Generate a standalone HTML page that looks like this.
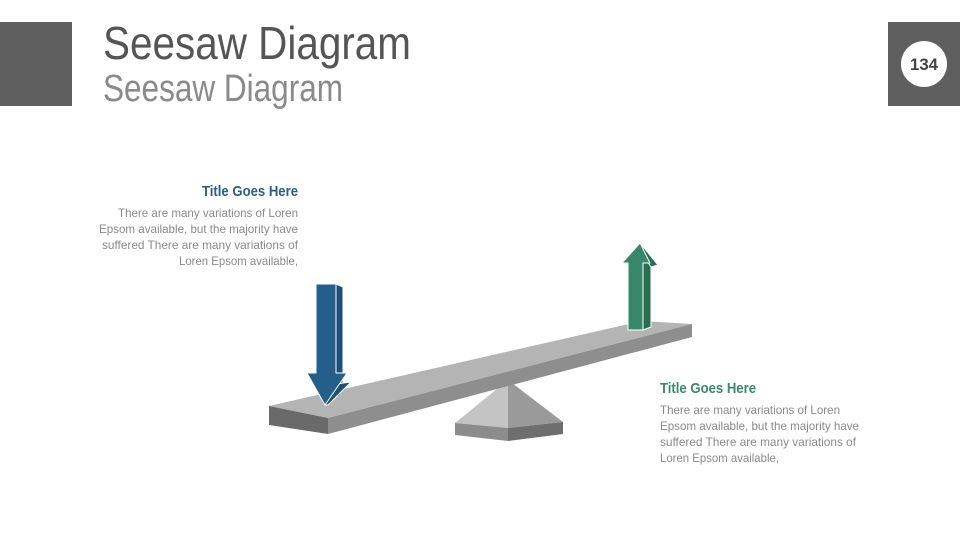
<!DOCTYPE html>
<html><head><meta charset="utf-8"><style>
html,body{margin:0;padding:0;background:#fff;}
svg{display:block;font-family:"Liberation Sans",sans-serif;}
</style></head><body>
<svg width="960" height="540" viewBox="0 0 960 540" xmlns="http://www.w3.org/2000/svg">
<rect x="0" y="22" width="72" height="84" fill="#5f5f5f"/>
<rect x="888" y="22" width="72" height="84" fill="#5f5f5f"/>
<circle cx="924" cy="64" r="23" fill="#fff"/>
<text x="924" y="70" text-anchor="middle" font-size="17" font-weight="bold" fill="#444" textLength="28" lengthAdjust="spacingAndGlyphs">134</text>
<text x="103" y="59" font-size="46" fill="#555" textLength="308" lengthAdjust="spacingAndGlyphs">Seesaw Diagram</text>
<text x="103" y="101" font-size="38" fill="#8a8a8a" textLength="240" lengthAdjust="spacingAndGlyphs">Seesaw Diagram</text>

<g text-anchor="end">
<text x="298" y="196" font-size="15" font-weight="bold" fill="#2a5d8a" textLength="96" lengthAdjust="spacingAndGlyphs">Title Goes Here</text>
<g font-size="12" fill="#8a8a8a">
<text x="298" y="217" textLength="180" lengthAdjust="spacingAndGlyphs">There are many variations of Loren</text>
<text x="298" y="233" textLength="199" lengthAdjust="spacingAndGlyphs">Epsom available, but the majority have</text>
<text x="298" y="249" textLength="196" lengthAdjust="spacingAndGlyphs">suffered  There are many variations of</text>
<text x="298" y="265" textLength="119" lengthAdjust="spacingAndGlyphs">Loren Epsom available,</text>
</g></g>
<g>
<text x="660" y="393" font-size="15" font-weight="bold" fill="#3a8a66" textLength="96" lengthAdjust="spacingAndGlyphs">Title Goes Here</text>
<g font-size="12" fill="#8a8a8a">
<text x="660" y="414" textLength="180" lengthAdjust="spacingAndGlyphs">There are many variations of Loren</text>
<text x="660" y="430" textLength="199" lengthAdjust="spacingAndGlyphs">Epsom available, but the majority have</text>
<text x="660" y="446" textLength="196" lengthAdjust="spacingAndGlyphs">suffered  There are many variations of</text>
<text x="660" y="462" textLength="119" lengthAdjust="spacingAndGlyphs">Loren Epsom available,</text>
</g></g>

<!-- fulcrum -->
<polygon points="508,380 455,423 508,428" fill="#c4c4c4"/>
<polygon points="508,380 563,422 508,428" fill="#9a9a9a"/>
<polygon points="455,423 508,428 508,441 455,435" fill="#8c8c8c"/>
<polygon points="508,428 563,422 563,434 508,441" fill="#6e6e6e"/>

<!-- plank -->
<polygon points="269,406 642,321 692,324 328,418" fill="#b4b4b4"/>
<polygon points="328,418 692,324 692,337 328,434" fill="#8e8e8e"/>
<polygon points="269,406 328,418 328,434 269,425" fill="#6a6a6a"/>

<!-- blue arrow -->
<g stroke="#fff" stroke-width="1" stroke-linejoin="round">
<polygon points="336,284 343,287 343,382 351,382 336,384" fill="#1d4f78"/>
<polygon points="351,382 328,405 325,405 336,384" fill="#1d4f78"/>
<polygon points="316,284 336,284 336,373 347,373 325,405 307,373 316,373" fill="#245f8c"/>
<!-- green arrow -->
<polygon points="643,255 651,265 651,327 643,330" fill="#2a6e50"/>
<polygon points="640,243 658,265 651,267 643,255" fill="#2a6e50"/>
<polygon points="640,243 622,263 628,263 628,330 643,330 643,263 650,263" fill="#37886a"/>
</g>
</svg>
</body></html>
